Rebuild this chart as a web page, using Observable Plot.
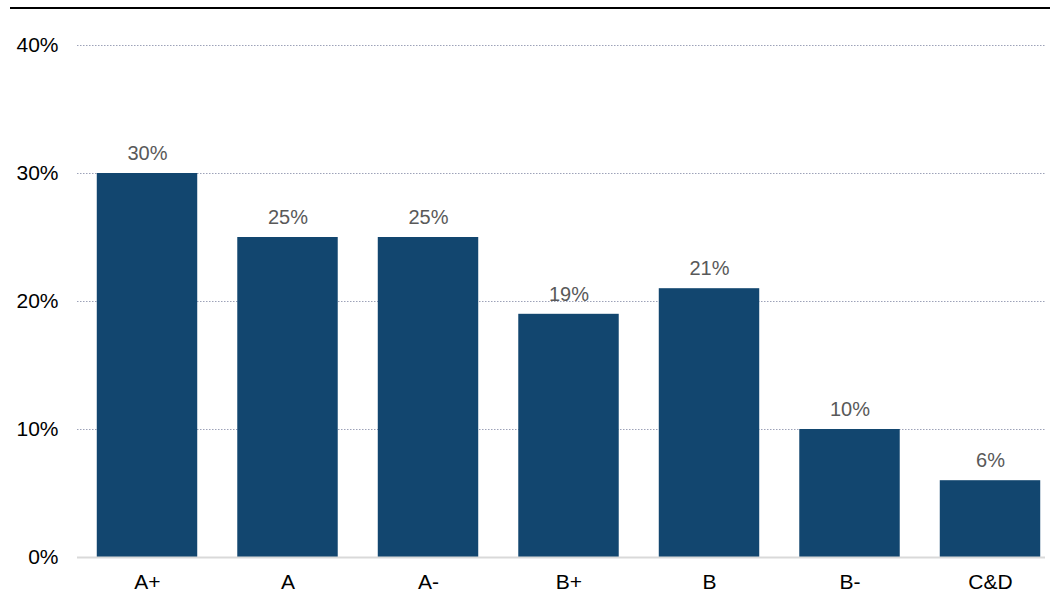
<!DOCTYPE html>
<html>
<head>
<meta charset="utf-8">
<script src="https://cdn.jsdelivr.net/npm/d3@7"></script>
<script src="https://cdn.jsdelivr.net/npm/@observablehq/plot@0.6"></script>
<style>
  html, body { margin: 0; padding: 0; background: #fff; }
  #wrap { position: relative; width: 1050px; height: 615px; overflow: hidden; }
  #topline { position: absolute; top: 7px; left: 10px; width: 1040px; height: 2px; background: #000; }
  svg { font-family: "Liberation Sans", Arial, sans-serif; }
</style>
</head>
<body>
<div id="wrap"><div id="topline"></div></div>
<script>
const categories = ["A+", "A", "A-", "B+", "B", "B-", "C&D"];
const values = [30, 25, 25, 19, 21, 10, 6];
const yTicks = [0, 10, 20, 30, 40];
const gridTicks = [10, 20, 30, 40];

const data = categories.map((c, i) => ({ cat: c, v: values[i] }));

const chart = Plot.plot({
  width: 1050,
  height: 615,
  marginTop: 45,
  marginBottom: 58,
  marginLeft: 77,
  marginRight: 5,
  style: { fontFamily: "Liberation Sans, Arial, sans-serif", background: "transparent" },
  x: {
    domain: categories,
    range: [76.75, 1060.25],
    paddingInner: 0.285,
    paddingOuter: 0.1425,
    round: false,
    label: null
  },
  y: { domain: [0, 40], label: null },
  marks: [
    Plot.ruleY(gridTicks, { stroke: "#9da2b8", strokeWidth: 1, strokeDasharray: "1.5,1.5" }),
    Plot.barY(data, { x: "cat", y: "v", fill: "#12466f" }),
    Plot.ruleY([0], { stroke: "#d9d9d9", strokeWidth: 2 }),
    Plot.text(data, { x: "cat", y: "v", text: d => d.v + "%", dy: -20, fill: "#595959", fontSize: 20 }),
    Plot.axisY({ ticks: yTicks, tickFormat: d => d + "%", tickSize: 0, tickPadding: 19, fontSize: 21, color: "#000" }),
    Plot.axisX({ tickSize: 0, tickPadding: 17, fontSize: 21, color: "#000" })
  ]
});
document.getElementById("wrap").appendChild(chart);
</script>
</body>
</html>
